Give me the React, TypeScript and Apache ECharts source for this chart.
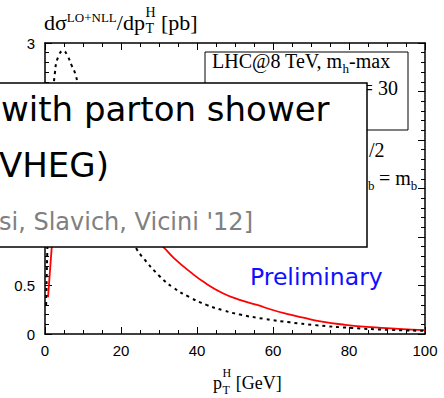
import React, { useEffect, useRef } from "react";
import * as echarts from "echarts";

// pT values (GeV) and dσ/dpT (pb)
const redPt = [0.8, 1.5, 2, 3, 4, 5, 6, 7, 8, 10, 12, 15, 18, 21, 25, 28, 31, 34, 38.2, 42, 46.8, 51, 55.8, 59.7, 64.5, 68, 72.9, 79, 86, 93, 100];
const redVal = [0.38, 0.75, 1.0, 1.42, 1.72, 1.92, 2.03, 2.08, 2.08, 2.0, 1.86, 1.62, 1.42, 1.26, 1.1, 0.99, 0.9, 0.78, 0.64, 0.53, 0.42, 0.355, 0.3, 0.25, 0.2, 0.168, 0.127, 0.095, 0.07, 0.053, 0.04];

const dotPt = [0.3, 1, 2, 2.6, 3.5, 4.8, 6, 7, 7.9, 9, 10, 12, 15, 18, 21, 24.2, 25.5, 30.3, 33.7, 38, 42.5, 46.8, 51.3, 57.9, 64.5, 71, 80.8, 90, 100];
const dotVal = [0.3, 1.4, 2.35, 2.69, 2.86, 2.92, 2.86, 2.77, 2.69, 2.52, 2.36, 2.05, 1.68, 1.36, 1.1, 0.87, 0.8, 0.59, 0.48, 0.38, 0.3, 0.245, 0.2, 0.155, 0.12, 0.092, 0.062, 0.044, 0.032];

const xMin = 0, xMax = 100, xStep = 20;
const yMin = 0, yMax = 3, yStep = 0.5;
// y tick labels hidden behind the overlaid text box
const coveredYTicks = [1, 1.5, 2, 2.5];

const SERIF = "'Liberation Serif', 'Times New Roman', serif";
const SANS = "'Liberation Sans', Arial, sans-serif";
const DSANS = "'DejaVu Sans', sans-serif";

let measureCtx: CanvasRenderingContext2D | null = null;
function measure(text: string, size: number, family: string) {
  if (!measureCtx) measureCtx = document.createElement("canvas").getContext("2d");
  measureCtx!.font = `${size}px ${family}`;
  return measureCtx!.measureText(text).width;
}

function txt(text: string, x: number, base: number, size: number, family: string, fill: string, z = 100, align = "left") {
  const k = family === DSANS ? 0.346 : 0.34;
  return {
    type: "text",
    z,
    silent: true,
    x,
    y: base - k * size,
    style: {
      text,
      font: `${size}px ${family}`,
      fill,
      align,
      textAlign: align,
      verticalAlign: "middle",
      textVerticalAlign: "middle",
    },
  };
}

// lay out [text, size, baseline] pieces one after another
function run(x0: number, pieces: [string, number, number][], family: string, z: number) {
  const out: any[] = [];
  let x = x0;
  for (const [t, s, b] of pieces) {
    out.push(txt(t, x, b, s, family, "#000", z));
    x += measure(t, s, family);
  }
  return { els: out, end: x };
}

function buildTitles() {
  const els: any[] = [];
  // y-axis title: dσ^{LO+NLL}/dp_T^H [pb]
  const a = run(44, [["dσ", 22, 30], ["LO+NLL", 13, 22], ["/dp", 22, 30]], SERIF, 10);
  els.push(...a.els);
  els.push(txt("H", a.end + 0.5, 17, 14, SERIF, "#000", 10));
  els.push(txt("T", a.end + 0.5, 33, 14, SERIF, "#000", 10));
  const hw = Math.max(measure("H", 14, SERIF), measure("T", 14, SERIF));
  els.push(txt(" [pb]", a.end + 0.5 + hw, 30, 22, SERIF, "#000", 10));
  // x-axis title: p_T^H [GeV]
  const p0 = 213;
  els.push(txt("p", p0, 389, 18, SERIF, "#000", 10));
  const pw = measure("p", 18, SERIF);
  els.push(txt("H", p0 + pw + 0.5, 377, 12, SERIF, "#000", 10));
  els.push(txt("T", p0 + pw + 0.5, 394, 12, SERIF, "#000", 10));
  const hw2 = Math.max(measure("H", 12, SERIF), measure("T", 12, SERIF));
  els.push(txt(" [GeV]", p0 + pw + 0.5 + hw2, 389, 18, SERIF, "#000", 10));
  // LHC box lines
  els.push(...run(212, [["LHC@8 TeV, m", 20, 68], ["h", 13, 73], ["-max", 20, 68]], SERIF, 21).els);
  els.push(txt("= 30", 398, 95, 20, SERIF, "#000", 21, "right"));
  els.push(txt("/2", 369, 157, 20, SERIF, "#000", 21));
  els.push(txt("b", 368, 190, 13, SERIF, "#000", 21));
  els.push(...run(379, [["= m", 20, 185], ["b", 13, 190]], SERIF, 21).els);
  return els;
}

export default function App() {
  const ref = useRef<HTMLDivElement>(null);
  useEffect(() => {
    const chart = echarts.init(ref.current!, null, { renderer: "svg" });
    const axisCommon = {
      type: "value",
      axisLine: { show: true, onZero: false, lineStyle: { color: "#000", width: 1.5 } },
      axisTick: { show: true, inside: true, length: 7, lineStyle: { color: "#000", width: 1 } },
      minorTick: { show: true, length: 4, lineStyle: { color: "#000", width: 1 } },
      splitLine: { show: false },
      minorSplitLine: { show: false },
    };
    const option: any = {
      animation: false,
      backgroundColor: "#fff",
      grid: { left: 45, right: 19, top: 43, bottom: 64, containLabel: false },
      xAxis: [
        {
          ...axisCommon,
          position: "bottom",
          min: xMin,
          max: xMax,
          interval: xStep,
          minorTick: { ...axisCommon.minorTick, splitNumber: 4 },
          axisLabel: { color: "#000", fontFamily: SANS, fontSize: 15, margin: 9 },
        },
        {
          ...axisCommon,
          position: "top",
          min: xMin,
          max: xMax,
          interval: xStep,
          minorTick: { ...axisCommon.minorTick, splitNumber: 4 },
          axisLabel: { show: false },
        },
      ],
      yAxis: [
        {
          ...axisCommon,
          position: "left",
          min: yMin,
          max: yMax,
          interval: yStep,
          minorTick: { ...axisCommon.minorTick, splitNumber: 5 },
          axisLabel: {
            color: "#000",
            fontFamily: SANS,
            fontSize: 15,
            margin: 10,
            formatter: (v: number) => (coveredYTicks.includes(v) ? "" : String(v)),
          },
        },
        {
          ...axisCommon,
          position: "right",
          min: yMin,
          max: yMax,
          interval: yStep,
          minorTick: { ...axisCommon.minorTick, splitNumber: 5 },
          axisLabel: { show: false },
        },
      ],
      series: [
        {
          type: "line",
          data: redPt.map((p, i) => [p, redVal[i]]),
          smooth: 0.5,
          showSymbol: false,
          symbol: "none",
          lineStyle: { color: "#ff0000", width: 1.8 },
          clip: true,
          z: 3,
        },
        {
          type: "line",
          data: dotPt.map((p, i) => [p, dotVal[i]]),
          smooth: 0.5,
          showSymbol: false,
          symbol: "none",
          lineStyle: { color: "#000", width: 2, type: [3, 4] },
          clip: true,
          z: 3,
        },
      ],
      graphic: [
        // LHC legend box
        {
          type: "rect",
          z: 20,
          silent: true,
          shape: { x: 205, y: 52, width: 203, height: 78 },
          style: { fill: "#fff", stroke: "#000", lineWidth: 1 },
        },
        ...buildTitles(),
        // Preliminary
        txt("Preliminary", 250, 285, 23.5, DSANS, "#1010ff", 30),
        // overlay box
        {
          type: "rect",
          z: 99,
          silent: true,
          shape: { x: -5, y: 83, width: 372, height: 164 },
          style: { fill: "#fff", stroke: "#000", lineWidth: 1.5 },
        },
        txt("with parton shower", 1, 121, 34, DSANS, "#000", 100),
        txt("VHEG)", -1, 177, 34, DSANS, "#000", 100),
        txt("si, Slavich, Vicini '12]", -1, 230, 24, DSANS, "#808080", 100),
      ],
    };
    chart.setOption(option);
    return () => chart.dispose();
  }, []);
  return <div ref={ref} style={{ width: 444, height: 398, position: "absolute", left: 0, top: 0 }} />;
}
